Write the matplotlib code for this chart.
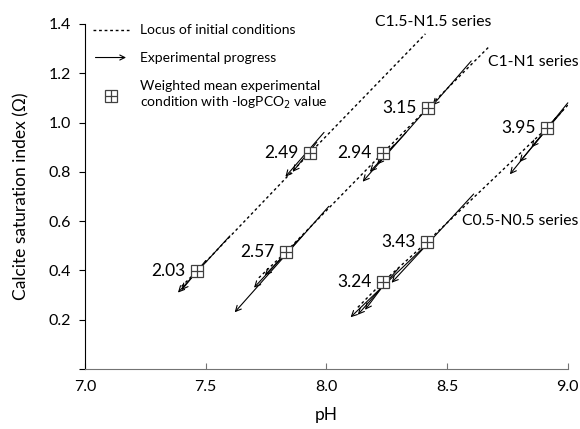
import numpy as np
import matplotlib
matplotlib.use('Agg')
import matplotlib.pyplot as plt
from matplotlib.lines import Line2D
from matplotlib.patches import FancyArrowPatch
from matplotlib.legend_handler import HandlerPatch

plt.rcParams['font.family'] = ['Lato', 'DejaVu Sans']

# loci of initial conditions (pH, omega)
locus_c15_ph = [7.40, 7.464, 7.932, 8.41]
locus_c15_om = [0.335, 0.398, 0.877, 1.36]
locus_c1_ph = [7.72, 7.832, 8.234, 8.420, 8.677]
locus_c1_om = [0.37, 0.475, 0.877, 1.059, 1.311]
locus_c05_ph = [8.13, 8.234, 8.416, 8.913, 9.0]
locus_c05_om = [0.25, 0.353, 0.515, 0.978, 1.071]

# weighted mean conditions and -logPCO2 values
mean_ph = [7.464, 7.932, 7.832, 8.234, 8.420, 8.416, 8.234, 8.913]
mean_om = [0.398, 0.877, 0.475, 0.877, 1.059, 0.515, 0.353, 0.978]
pco2 = ['2.03', '2.49', '2.57', '2.94', '3.15', '3.43', '3.24', '3.95']

# experimental progress arrows: start pH, start omega, end pH, end omega
arr_ph0 = [7.60, 7.50, 7.99, 7.96, 8.01, 7.90, 7.88, 8.42, 8.33, 8.28, 8.60, 9.0, 8.98, 8.95, 8.61, 8.42, 8.30, 8.26]
arr_om0 = [0.54, 0.44, 0.96, 0.92, 0.66, 0.54, 0.52, 1.06, 0.96, 0.91, 1.25, 1.08, 1.05, 1.02, 0.71, 0.51, 0.41, 0.37]
arr_ph1 = [7.385, 7.40, 7.83, 7.86, 7.62, 7.70, 7.745, 8.15, 8.18, 8.21, 8.44, 8.76, 8.80, 8.85, 8.27, 8.10, 8.13, 8.16]
arr_om1 = [0.31, 0.32, 0.78, 0.80, 0.23, 0.33, 0.38, 0.76, 0.80, 0.83, 1.07, 0.79, 0.84, 0.90, 0.35, 0.21, 0.22, 0.24]

series_names = ['C1.5-N1.5 series', 'C1-N1 series', 'C0.5-N0.5 series']
series_ph = [8.20, 9.045, 9.045]
series_om = [1.41, 1.245, 0.60]
series_ha = ['left', 'right', 'right']

fig = plt.figure(figsize=(5.8, 4.29), dpi=100)
ax = fig.add_axes([0.1466, 0.1399, 0.8324, 0.8042])

dot = (0, (2, 2))
for px, py in [(locus_c15_ph, locus_c15_om), (locus_c1_ph, locus_c1_om), (locus_c05_ph, locus_c05_om)]:
    ax.plot(px, py, color='black', lw=1, linestyle=dot)

for a, b, c, d in zip(arr_ph0, arr_om0, arr_ph1, arr_om1):
    ax.annotate('', xy=(c, d), xytext=(a, b),
                arrowprops=dict(arrowstyle='->', lw=0.8, color='black',
                                shrinkA=0, shrinkB=0, mutation_scale=10))

ax.plot(mean_ph, mean_om, linestyle='', marker='s', ms=9, mfc='white', mec='0.25', mew=0.9, zorder=5)
ax.plot(mean_ph, mean_om, linestyle='', marker='+', ms=9, mec='0.25', mew=0.9, zorder=6)
for x, y, t in zip(mean_ph, mean_om, pco2):
    ax.annotate(t, (x, y), xytext=(-8, 0), textcoords='offset points',
                ha='right', va='center', fontsize=12.5)

for t, x, y, h in zip(series_names, series_ph, series_om, series_ha):
    ax.text(x, y, t, fontsize=11.3, ha=h, va='center', clip_on=False)


class HandlerArrow(HandlerPatch):
    def create_artists(self, legend, orig_handle, xdescent, ydescent, width, height, fontsize, trans):
        p = FancyArrowPatch((-xdescent, height / 2 - ydescent), (width - xdescent, height / 2 - ydescent),
                            arrowstyle='->', mutation_scale=9, lw=0.8, color='black')
        p.set_transform(trans)
        return [p]


h_locus = Line2D([], [], color='black', lw=1, linestyle=dot)
h_arrow = FancyArrowPatch((0, 0), (1, 0), arrowstyle='->')
h_box = Line2D([], [], linestyle='', marker='s', ms=8, mfc='white', mec='0.25', mew=0.9)
h_plus = Line2D([], [], linestyle='', marker='+', ms=8, mec='0.25', mew=0.9)
ax.legend([h_locus, h_arrow, (h_box, h_plus)],
          ['Locus of initial conditions', 'Experimental progress',
           'Weighted mean experimental\ncondition with -logPCO$_2$ value'],
          handler_map={FancyArrowPatch: HandlerArrow()},
          loc='upper left', bbox_to_anchor=(-0.01, 1.035), frameon=False, fontsize=10,
          handlelength=2.6, handletextpad=0.8, labelspacing=1.15)

ax.set_xlim(7.0, 9.0)
ax.set_ylim(0, 1.4)
ax.set_xticks([7.0, 7.5, 8.0, 8.5, 9.0])
ax.set_xticklabels(['7.0', '7.5', '8.0', '8.5', '9.0'])
ax.set_yticks([0, 0.2, 0.4, 0.6, 0.8, 1.0, 1.2, 1.4])
ax.set_yticklabels(['', '0.2', '0.4', '0.6', '0.8', '1.0', '1.2', '1.4'])
ax.tick_params(axis='x', direction='in', length=4, color='0.45', labelsize=11.5, pad=8)
ax.tick_params(axis='y', direction='out', length=4, labelsize=11.5, pad=6)
ax.spines['top'].set_visible(False)
ax.spines['right'].set_visible(False)
ax.spines['bottom'].set_color('0.45')
ax.set_xlabel('pH', fontsize=12.5, labelpad=9)
ax.set_ylabel('Calcite saturation index (Ω)', fontsize=12.5, labelpad=14)

fig.savefig('out.png', dpi=100)
